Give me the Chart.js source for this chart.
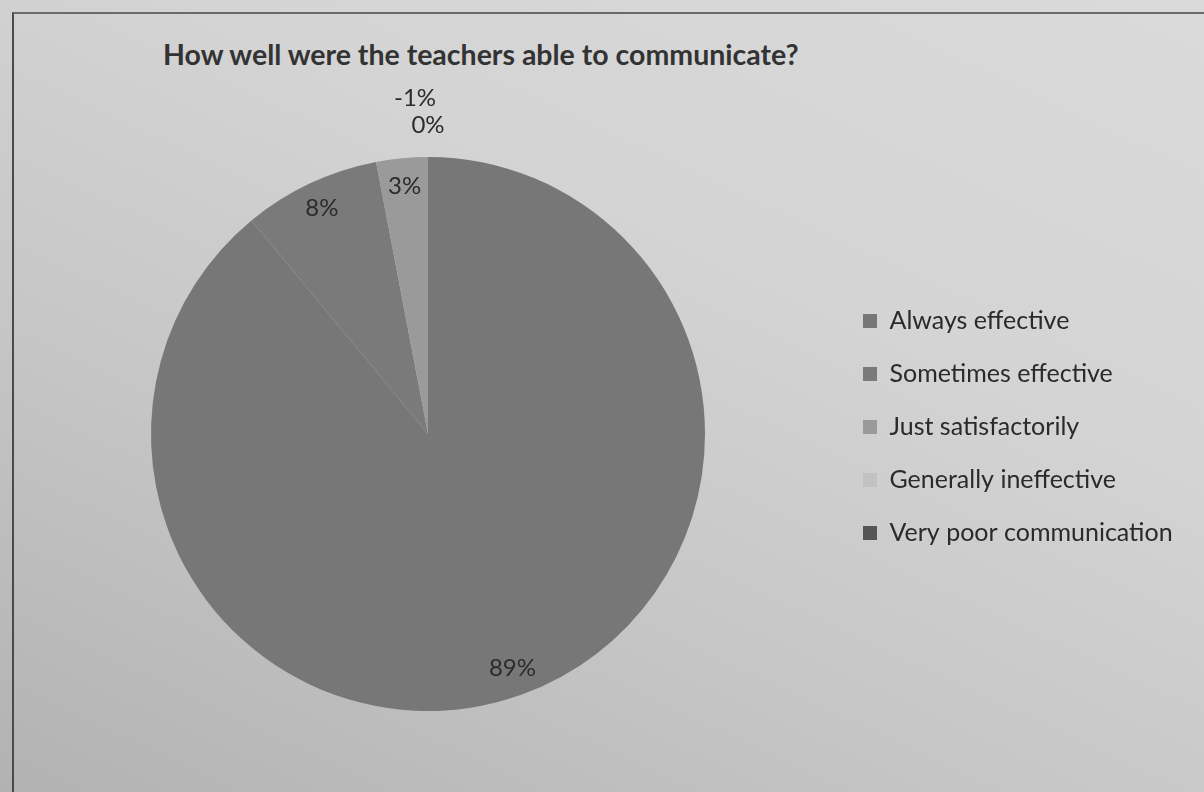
<!DOCTYPE html>
<html>
<head>
<meta charset="utf-8">
<script src="https://cdn.jsdelivr.net/npm/chart.js@4"></script>
<style>
  html, body { margin: 0; padding: 0; }
  body {
    width: 1204px; height: 792px; overflow: hidden; position: relative;
    background: linear-gradient(25deg, #b2b2b2 0%, #c6c6c6 35%, #d4d4d4 65%, #dadada 100%);
  }
  #frame {
    position: absolute; left: 12px; top: 12px; width: 1300px; height: 900px;
    border-top: 2px solid #6a6a6a; border-left: 2px solid #4a4a4a;
  }
  #title {
    position: absolute; left: 163px; top: 37px;
    font-family: Lato, "Open Sans", sans-serif; font-weight: bold; font-size: 28.5px;
    color: #333;
    white-space: nowrap;
  }
  #wrap { position: absolute; left: 0; top: 0; width: 1204px; height: 792px; }
</style>
</head>
<body>
<div id="frame"></div>
<div id="title">How well were the teachers able to communicate?</div>
<div id="wrap"><canvas id="c" width="1204" height="792"></canvas></div>
<script>
const categories = ["Always effective", "Sometimes effective", "Just satisfactorily", "Generally ineffective", "Very poor communication"];
const percentValues = [89, 8, 3, 0, -1];
const sliceColors = ["#777777", "#7a7a7a", "#9a9a9a", "#c2c2c2", "#555555"];

const labelPlugin = {
  id: 'pctLabels',
  afterDatasetsDraw(chart) {
    const ctx = chart.ctx;
    const meta = chart.getDatasetMeta(0);
    ctx.save();
    ctx.font = '24px Lato, "Open Sans", sans-serif';
    ctx.fillStyle = '#2c2c2c';
    ctx.textAlign = 'center';
    ctx.textBaseline = 'middle';
    let outsideCount = 0;
    meta.data.forEach((arc, i) => {
      const p = arc.getProps(['x', 'y', 'startAngle', 'endAngle', 'outerRadius'], true);
      const mid = (p.startAngle + p.endAngle) / 2;
      const v = percentValues[i];
      let x, y;
      if (v > 0) {
        const r = p.outerRadius * 0.9;
        x = p.x + Math.cos(mid) * r;
        y = p.y + Math.sin(mid) * r;
      } else {
        const r = p.outerRadius + 32 + outsideCount * 27;
        x = p.x + Math.cos(mid) * r - outsideCount * 13;
        y = p.y + Math.sin(mid) * r;
        outsideCount++;
      }
      ctx.fillText(v + '%', x, y);
    });
    ctx.restore();
  }
};

const legendPlugin = {
  id: 'legendTweak',
  beforeInit(chart) {
    const lg = chart.legend;
    const origFit = lg.fit;
    lg.fit = function () {
      origFit.call(this);
      this.width = 369;
    };
    const origDraw = lg.draw;
    lg.draw = function () {
      const ctx = this.ctx;
      ctx.save();
      ctx.translate(0, -7);
      origDraw.apply(this, arguments);
      ctx.restore();
    };
  }
};

new Chart(document.getElementById('c'), {
  type: 'pie',
  data: {
    labels: categories,
    datasets: [{
      data: percentValues.map(v => Math.max(v, 0)),
      backgroundColor: sliceColors,
      borderWidth: 0,
      radius: 277
    }]
  },
  options: {
    responsive: false,
    animation: false,
    layout: { padding: { left: 21, right: 0, top: 76, bottom: 0 } },
    plugins: {
      title: { display: false },
      tooltip: { enabled: false },
      legend: {
        position: 'right',
        align: 'center',
        labels: {
          boxWidth: 14,
          boxHeight: 14,
          padding: 28,
          color: '#2a2a2a',
          font: { family: 'Lato, "Open Sans", sans-serif', size: 25 }
        }
      }
    }
  },
  plugins: [labelPlugin, legendPlugin]
});
</script>
</body>
</html>
